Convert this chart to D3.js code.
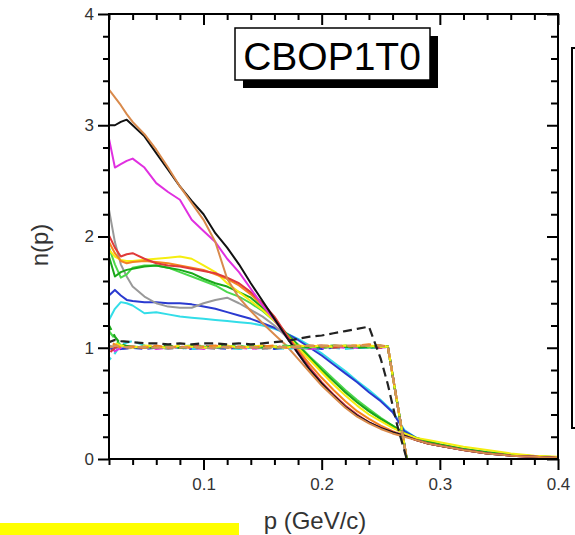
<!DOCTYPE html>
<html><head><meta charset="utf-8">
<script src="https://cdn.jsdelivr.net/npm/d3@7"></script>
<style>body{margin:0;background:#fff}svg{display:block}text{font-family:"Liberation Sans",Arial,sans-serif}</style>
</head><body>
<script>
// ---- data ----
const xMajorTicks = [0.1, 0.2, 0.3, 0.4];
const yMajorTicks = [0, 1, 2, 3, 4];
const xLabel = "p (GeV/c)";
const yLabel = "n(p)";
const titleText = "CBOP1T0";

// shared momentum grid for solid curves
const pSolid = [0.02,0.025,0.03,0.035,0.04,0.05,0.06,0.07,0.08,0.09,0.1,0.11,0.12,0.13,0.14,0.15,0.16,0.17,0.18,0.19,0.2,0.21,0.22,0.23,0.24,0.25,0.26,0.27,0.28,0.29,0.3,0.32,0.34,0.36,0.38,0.4];
const solidBlack   = [3.0,3.0,3.03,3.05,3.0,2.9,2.75,2.6,2.45,2.32,2.2,2.03,1.9,1.75,1.58,1.42,1.26,1.1,0.95,0.8,0.68,0.57,0.47,0.39,0.33,0.28,0.24,0.21,0.17,0.14,0.12,0.08,0.05,0.03,0.02,0.01];
const solidTan     = [3.32,3.25,3.18,3.1,3.03,2.92,2.78,2.62,2.45,2.3,2.15,1.95,1.62,1.45,1.33,1.22,1.12,1.02,0.9,0.78,0.66,0.56,0.46,0.38,0.32,0.27,0.23,0.2,0.17,0.14,0.12,0.08,0.05,0.03,0.02,0.01];
const solidMagenta = [2.88,2.62,2.65,2.68,2.7,2.62,2.48,2.4,2.33,2.15,2.05,1.95,1.8,1.68,1.53,1.38,1.25,1.1,0.95,0.8,0.68,0.57,0.47,0.39,0.33,0.28,0.24,0.21,0.17,0.14,0.12,0.08,0.05,0.03,0.02,0.01];
const solidRed     = [2.01,1.9,1.82,1.84,1.85,1.8,1.76,1.74,1.73,1.71,1.69,1.67,1.63,1.58,1.5,1.4,1.28,1.12,0.96,0.82,0.69,0.58,0.48,0.4,0.33,0.28,0.24,0.21,0.17,0.14,0.12,0.08,0.05,0.03,0.02,0.01];
const solidOrange  = [1.95,1.85,1.78,1.76,1.77,1.78,1.77,1.76,1.74,1.72,1.7,1.66,1.62,1.56,1.48,1.38,1.26,1.12,0.98,0.85,0.73,0.62,0.52,0.43,0.36,0.3,0.25,0.21,0.17,0.14,0.12,0.08,0.05,0.03,0.02,0.01];
const solidYellow  = [1.88,1.82,1.79,1.78,1.78,1.79,1.8,1.81,1.82,1.8,1.74,1.68,1.58,1.5,1.42,1.34,1.24,1.12,1.0,0.89,0.78,0.67,0.57,0.48,0.4,0.34,0.28,0.23,0.19,0.17,0.15,0.11,0.08,0.05,0.03,0.02];
const solidGreen   = [1.82,1.64,1.68,1.7,1.71,1.73,1.74,1.72,1.7,1.67,1.62,1.58,1.55,1.5,1.45,1.36,1.25,1.13,1.02,0.91,0.8,0.7,0.6,0.51,0.43,0.36,0.3,0.23,0.19,0.16,0.13,0.09,0.06,0.04,0.025,0.015];
const solidLime    = [1.9,1.75,1.63,1.66,1.72,1.74,1.74,1.72,1.68,1.64,1.6,1.56,1.5,1.46,1.4,1.33,1.24,1.13,1.03,0.92,0.82,0.72,0.62,0.53,0.45,0.37,0.3,0.23,0.19,0.16,0.13,0.09,0.06,0.04,0.025,0.015];
const solidGray    = [2.24,1.95,1.75,1.64,1.55,1.46,1.4,1.37,1.36,1.36,1.4,1.43,1.45,1.4,1.34,1.28,1.2,1.1,1.0,0.9,0.8,0.7,0.6,0.51,0.43,0.36,0.29,0.22,0.18,0.15,0.13,0.09,0.06,0.04,0.025,0.015];
const solidBlue    = [1.47,1.52,1.47,1.43,1.42,1.41,1.41,1.4,1.4,1.39,1.37,1.35,1.32,1.29,1.26,1.22,1.18,1.13,1.07,1.0,0.93,0.85,0.77,0.69,0.6,0.52,0.42,0.25,0.19,0.15,0.12,0.085,0.055,0.035,0.02,0.01];
const solidCyan    = [1.25,1.35,1.41,1.4,1.38,1.31,1.32,1.3,1.28,1.27,1.26,1.25,1.24,1.23,1.22,1.2,1.17,1.13,1.08,1.02,0.95,0.87,0.79,0.7,0.62,0.53,0.43,0.26,0.19,0.15,0.12,0.085,0.055,0.035,0.02,0.01];

// shared momentum grid for dashed (initial) curves
const pDashed = [0.02,0.025,0.03,0.04,0.05,0.06,0.07,0.08,0.09,0.1,0.11,0.12,0.13,0.14,0.15,0.16,0.17,0.18,0.19,0.2,0.21,0.22,0.23,0.24,0.25,0.256,0.264,0.272];
const dashBlack   = [1.05,1.07,1.06,1.05,1.04,1.04,1.03,1.04,1.03,1.04,1.04,1.03,1.04,1.03,1.04,1.05,1.06,1.08,1.1,1.11,1.13,1.15,1.17,1.19,0.9,0.67,0.3,0.0];
const dashTan     = [1.0,1.02,1.01,1.0,1.01,1.0,1.01,1.0,1.01,1.0,1.0,1.01,1.0,1.01,1.0,1.0,1.01,1.01,1.02,1.02,1.02,1.02,1.02,1.02,1.02,1.01,0.5,0.0];
const dashOrange  = [1.05,1.03,1.0,1.01,1.0,1.02,1.0,1.01,1.0,1.01,1.02,1.0,1.01,1.0,1.01,1.02,1.0,1.01,1.02,1.01,1.02,1.01,1.02,1.03,1.02,1.01,0.5,0.0];
const dashYellow  = [1.06,1.04,1.02,1.0,1.02,1.01,1.0,1.02,1.01,1.0,1.01,1.02,1.0,1.01,1.02,1.01,1.0,1.02,1.01,1.02,1.01,1.02,1.02,1.02,1.01,1.01,0.5,0.0];
const dashGreen   = [1.2,1.1,1.03,1.0,1.01,1.0,1.02,1.0,1.01,1.0,1.02,1.01,1.0,1.02,1.01,1.0,1.01,1.02,1.0,1.01,1.02,1.01,1.0,1.01,1.02,1.01,0.5,0.0];
const dashLime    = [1.15,1.08,1.02,1.01,1.0,1.01,1.0,1.01,1.02,1.01,1.0,1.01,1.02,1.0,1.0,1.01,1.02,1.0,1.01,1.0,1.01,1.02,1.01,1.0,1.01,1.01,0.5,0.0];
const dashRed     = [0.95,1.0,1.02,1.01,1.0,1.01,1.02,1.0,1.01,1.02,1.0,1.01,1.0,1.01,1.02,1.0,1.01,1.0,1.01,1.02,1.0,1.01,1.02,1.01,1.0,1.01,0.5,0.0];
const dashMagenta = [0.95,0.97,1.0,1.01,1.0,0.99,1.0,1.01,1.0,0.99,1.0,1.01,1.0,0.99,1.0,1.01,1.0,1.0,0.99,1.0,1.01,1.0,1.0,1.01,1.0,1.01,0.5,0.0];
const dashCyan    = [0.89,0.95,1.03,1.06,1.02,1.0,1.01,1.0,0.99,1.0,1.01,1.0,0.99,1.0,1.01,1.0,0.99,1.0,1.0,1.01,1.0,0.99,1.0,1.0,1.0,1.01,0.5,0.0];
const dashBlue    = [1.0,0.98,0.99,1.0,0.99,1.0,1.01,1.0,0.99,1.0,1.0,0.99,1.0,1.01,1.0,0.99,1.0,1.01,1.0,0.99,1.0,1.01,1.0,1.0,1.0,1.01,0.5,0.0];
const dashGray    = [1.02,1.0,0.99,1.0,1.01,1.0,0.99,1.0,1.01,1.0,0.99,1.0,1.01,1.0,0.99,1.0,1.01,1.0,0.99,1.0,1.0,1.01,1.0,1.0,1.0,1.01,0.5,0.0];

const dashedSeries = [
  {y: dashGray, c: "#999999"}, {y: dashBlue, c: "#2a3ad0"}, {y: dashCyan, c: "#33dde8"},
  {y: dashMagenta, c: "#e030e0"}, {y: dashRed, c: "#e03a3a"}, {y: dashLime, c: "#4cd84c"},
  {y: dashGreen, c: "#1aa81a"}, {y: dashYellow, c: "#f5ee10"}, {y: dashOrange, c: "#f5841f"},
  {y: dashTan, c: "#d4955a"}, {y: dashBlack, c: "#222222"}
];
const solidSeries = [
  {y: solidCyan, c: "#33dde8"}, {y: solidBlue, c: "#2a3ad0"}, {y: solidGray, c: "#999999"},
  {y: solidLime, c: "#4cd84c"}, {y: solidGreen, c: "#1aa81a"}, {y: solidYellow, c: "#f5ee10"},
  {y: solidOrange, c: "#f5841f"}, {y: solidRed, c: "#e03a3a"}, {y: solidMagenta, c: "#e030e0"},
  {y: solidBlack, c: "#111111"}, {y: solidTan, c: "#d98a4c"}
];

// ---- drawing ----
const W = 575, H = 535;
const L = 109, R = 558, T = 14, B = 459;
const svg = d3.select("body").append("svg").attr("width", W).attr("height", H);

const x = d3.scaleLinear().domain([0.02, 0.4]).range([L, R]);
const y = d3.scaleLinear().domain([0, 4]).range([B, T]);

svg.append("defs").append("clipPath").attr("id", "clip")
  .append("rect").attr("x", L).attr("y", T).attr("width", R - L).attr("height", B - T);

const plot = svg.append("g").attr("clip-path", "url(#clip)");
const line = d3.line().x(d => x(d[0])).y(d => y(d[1]));

solidSeries.forEach(s => {
  plot.append("path").datum(pSolid.map((p, i) => [p, s.y[i]]))
    .attr("d", line).attr("fill", "none").attr("stroke", s.c)
    .attr("stroke-width", 2).attr("stroke-linejoin", "round");
});
dashedSeries.forEach((s, k) => {
  plot.append("path").datum(pDashed.map((p, i) => [p, s.y[i]]))
    .attr("d", line).attr("fill", "none").attr("stroke", s.c)
    .attr("stroke-width", 2.2).attr("stroke-dasharray", "9,5")
    .attr("stroke-dashoffset", k * 3);
});

// axes
const xMinor = d3.range(0.02, 0.401, 0.02).filter(v => !xMajorTicks.some(m => Math.abs(m - v) < 1e-6));
const yMinor = d3.range(0, 4.001, 0.2).filter(v => !yMajorTicks.some(m => Math.abs(m - v) < 1e-6));

function styleAxis(g) {
  g.select(".domain").remove();
  g.selectAll(".tick line").attr("stroke", "#000").attr("stroke-width", 2);
  g.selectAll(".tick text").attr("fill", "#333").attr("font-size", 17)
    .attr("font-family", '"Liberation Sans", Arial, sans-serif');
}
// bottom
svg.append("g").attr("transform", `translate(0,${B})`)
  .call(d3.axisBottom(x).tickValues(xMinor).tickSize(6).tickFormat("")).call(styleAxis);
svg.append("g").attr("transform", `translate(0,${B})`)
  .call(d3.axisBottom(x).tickValues(xMajorTicks).tickSize(11).tickPadding(8).tickFormat(d3.format(".1f"))).call(styleAxis);
// top (ticks inward)
svg.append("g").attr("transform", `translate(0,${T})`)
  .call(d3.axisBottom(x).tickValues(xMinor).tickSize(6).tickFormat("")).call(styleAxis);
svg.append("g").attr("transform", `translate(0,${T})`)
  .call(d3.axisBottom(x).tickValues(xMajorTicks).tickSize(11).tickFormat("")).call(styleAxis);
// left
svg.append("g").attr("transform", `translate(${L},0)`)
  .call(d3.axisLeft(y).tickValues(yMinor).tickSize(6).tickFormat("")).call(styleAxis);
svg.append("g").attr("transform", `translate(${L},0)`)
  .call(d3.axisLeft(y).tickValues(yMajorTicks).tickSize(11).tickPadding(4).tickFormat(d3.format("d"))).call(styleAxis);
// right (ticks inward)
svg.append("g").attr("transform", `translate(${R},0)`)
  .call(d3.axisLeft(y).tickValues(yMinor).tickSize(7).tickFormat("")).call(styleAxis);
svg.append("g").attr("transform", `translate(${R},0)`)
  .call(d3.axisLeft(y).tickValues(yMajorTicks).tickSize(11).tickFormat("")).call(styleAxis);

// frame
svg.append("rect").attr("x", L).attr("y", T).attr("width", R - L).attr("height", B - T)
  .attr("fill", "none").attr("stroke", "#000").attr("stroke-width", 2);

// axis titles
svg.append("text").attr("x", 315).attr("y", 529).attr("text-anchor", "middle")
  .attr("font-size", 24).attr("fill", "#333").text(xLabel);
svg.append("text").attr("transform", "translate(48,245) rotate(-90)").attr("text-anchor", "middle")
  .attr("font-size", 24).attr("fill", "#333").text(yLabel);

// title box with shadow
svg.append("rect").attr("x", 243).attr("y", 36).attr("width", 195).attr("height", 52).attr("fill", "#000");
svg.append("rect").attr("x", 235).attr("y", 28).attr("width", 195).attr("height", 52)
  .attr("fill", "#fff").attr("stroke", "#000").attr("stroke-width", 1.5);
svg.append("text").attr("x", 332).attr("y", 70).attr("text-anchor", "middle")
  .attr("font-size", 39).attr("fill", "#000").text(titleText);

// legend box (cut off at right edge)
svg.append("rect").attr("x", 572).attr("y", 48).attr("width", 40).attr("height", 380)
  .attr("fill", "#fff").attr("stroke", "#000").attr("stroke-width", 2);

// yellow highlight strip
svg.append("rect").attr("x", 0).attr("y", 523).attr("width", 239).attr("height", 12).attr("fill", "#ffff00");
</script>
</body></html>
